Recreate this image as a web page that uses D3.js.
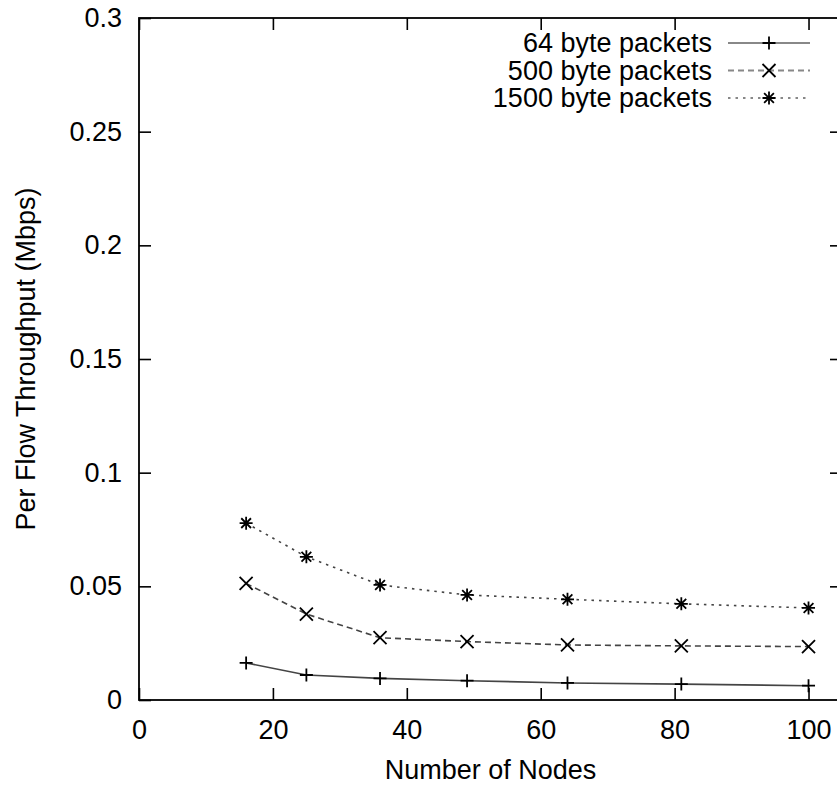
<!DOCTYPE html>
<html>
<head>
<meta charset="utf-8">
<script src="https://cdn.jsdelivr.net/npm/d3@7"></script>
<style>
  body { margin: 0; background: #fff; }
  text { font-family: "Liberation Sans", Arial, sans-serif; fill: #000; }
</style>
</head>
<body>
<svg id="chart" width="837" height="785"></svg>
<script>
// values
var nodes = [16, 25, 36, 49, 64, 81, 100];
var seriesNames = ["64 byte packets", "500 byte packets", "1500 byte packets"];
var tput64 = [0.0163, 0.0110, 0.0095, 0.0085, 0.0075, 0.0070, 0.0063];
var tput500 = [0.0513, 0.0378, 0.0274, 0.0257, 0.0242, 0.0238, 0.0235];
var tput1500 = [0.0778, 0.0630, 0.0506, 0.0462, 0.0443, 0.0423, 0.0405];
var xTicks = [0, 20, 40, 60, 80, 100];
var yTicks = [0, 0.05, 0.1, 0.15, 0.2, 0.25, 0.3];
var yTickLabels = ["0", "0.05", "0.1", "0.15", "0.2", "0.25", "0.3"];

var series = [
  {name: seriesNames[0], values: tput64, dash: null, marker: "plus"},
  {name: seriesNames[1], values: tput500, dash: "6,4", marker: "cross"},
  {name: seriesNames[2], values: tput1500, dash: "2.5,5", marker: "star"}
];

var svg = d3.select("#chart");
var mLeft = 139, mRight = 842, mTop = 18, mBottom = 700;

var x = d3.scaleLinear().domain([0, 105]).range([mLeft, mRight]);
var y = d3.scaleLinear().domain([0, 0.3]).range([mBottom, mTop]);

// axes, ticks pointing inward like gnuplot
svg.append("g")
    .attr("transform", "translate(0," + mBottom + ")")
    .call(d3.axisBottom(x).tickValues(xTicks).tickSize(-12).tickPadding(20));
svg.append("g")
    .attr("transform", "translate(" + mLeft + ",0)")
    .call(d3.axisLeft(y).tickValues(yTicks).tickSize(-12).tickPadding(17)
      .tickFormat(function(d, i) { return yTickLabels[i]; }));
// mirrored ticks on top and right
svg.append("g")
    .attr("transform", "translate(0," + mTop + ")")
    .call(d3.axisTop(x).tickValues(xTicks).tickSize(-12).tickFormat(""));
svg.append("g")
    .attr("transform", "translate(" + mRight + ",0)")
    .call(d3.axisRight(y).tickValues(yTicks.slice(1, -1)).tickSize(-12).tickFormat(""));

svg.selectAll(".domain").remove();
svg.selectAll(".tick line").attr("stroke", "#000").attr("stroke-width", 1.6);
svg.selectAll(".tick text").style("font-size", "27px").attr("fill", "#000");

svg.append("rect")
    .attr("x", mLeft).attr("y", mTop)
    .attr("width", mRight - mLeft).attr("height", mBottom - mTop)
    .attr("fill", "none").attr("stroke", "#000").attr("stroke-width", 1.8);

// axis titles
svg.append("text")
    .attr("x", (mLeft + mRight) / 2).attr("y", 779)
    .attr("text-anchor", "middle")
    .style("font-size", "27px")
    .text("Number of Nodes");
svg.append("text")
    .attr("transform", "translate(35," + ((mTop + mBottom) / 2) + ") rotate(-90)")
    .attr("text-anchor", "middle")
    .style("font-size", "27px")
    .text("Per Flow Throughput (Mbps)");

function drawMarker(g, type, cx, cy) {
  var r = 6.5, p;
  if (type == "plus") {
    p = "M" + (cx - r) + "," + cy + "H" + (cx + r) + "M" + cx + "," + (cy - r) + "V" + (cy + r);
  } else if (type == "cross") {
    p = "M" + (cx - r) + "," + (cy - r) + "L" + (cx + r) + "," + (cy + r) +
        "M" + (cx - r) + "," + (cy + r) + "L" + (cx + r) + "," + (cy - r);
  } else {
    p = "M" + (cx - r) + "," + cy + "H" + (cx + r) + "M" + cx + "," + (cy - r) + "V" + (cy + r) +
        "M" + (cx - r * 0.75) + "," + (cy - r * 0.75) + "L" + (cx + r * 0.75) + "," + (cy + r * 0.75) +
        "M" + (cx - r * 0.75) + "," + (cy + r * 0.75) + "L" + (cx + r * 0.75) + "," + (cy - r * 0.75);
  }
  g.append("path").attr("d", p).attr("stroke", "#000").attr("stroke-width", 1.8).attr("fill", "none");
}

var line = d3.line()
    .x(function(d, i) { return x(nodes[i]); })
    .y(function(d) { return y(d); });

var plot = svg.append("g");
series.forEach(function(s) {
  plot.append("path")
      .attr("d", line(s.values))
      .attr("fill", "none")
      .attr("stroke", "#444")
      .attr("stroke-width", 1.6)
      .attr("stroke-dasharray", s.dash);
  s.values.forEach(function(v, i) {
    drawMarker(plot, s.marker, x(nodes[i]), y(v));
  });
});

// legend, top right
var legend = svg.append("g");
series.forEach(function(s, i) {
  var ly = 43 + i * 27.5;
  legend.append("text")
      .attr("x", 712).attr("y", ly)
      .attr("dy", "0.35em")
      .attr("text-anchor", "end")
      .style("font-size", "27px")
      .text(s.name);
  legend.append("line")
      .attr("x1", 728).attr("x2", 810)
      .attr("y1", ly).attr("y2", ly)
      .attr("stroke", "#888")
      .attr("stroke-width", 2)
      .attr("stroke-dasharray", s.dash);
  drawMarker(legend, s.marker, 769, ly);
});
</script>
</body>
</html>
